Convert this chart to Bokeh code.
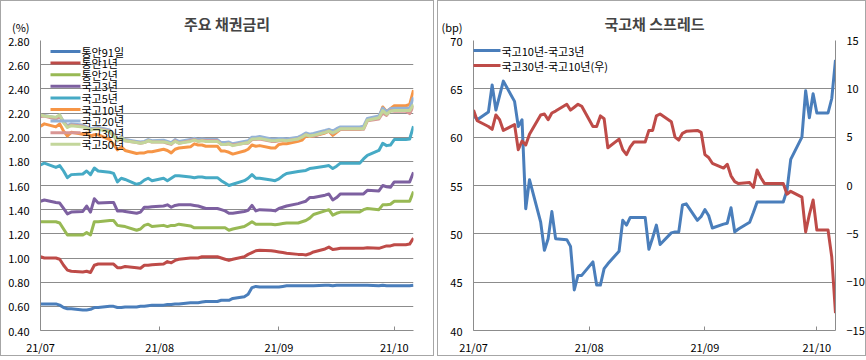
import pandas as pd
from bokeh.plotting import figure
from bokeh.layouts import row
from bokeh.models import (LinearAxis, Range1d, FixedTicker, DatetimeTickFormatter,
                          Label, BoxAnnotation, NumeralTickFormatter)
from bokeh.embed import file_html
from bokeh.resources import INLINE

# ---------------- data ----------------
days = ["07-01", "07-02", "07-05", "07-06", "07-07", "07-08", "07-09", "07-12", "07-13", "07-14", "07-15",
        "07-16", "07-19", "07-20", "07-21", "07-22", "07-23", "07-26", "07-27", "07-28", "07-29", "07-30",
        "08-02", "08-03", "08-04", "08-05", "08-06", "08-09", "08-10", "08-11", "08-12", "08-13", "08-16",
        "08-17", "08-18", "08-19", "08-20", "08-23", "08-24", "08-25", "08-26", "08-27", "08-30", "08-31",
        "09-01", "09-02", "09-03", "09-06", "09-07", "09-08", "09-09", "09-10", "09-13", "09-14", "09-15",
        "09-16", "09-17", "09-20", "09-21", "09-22", "09-23", "09-24", "09-27", "09-28", "09-29", "09-30",
        "10-01", "10-04", "10-05", "10-06"]

msb_91d = [0.62, 0.62, 0.62, 0.61, 0.59, 0.58, 0.58, 0.57, 0.57, 0.575, 0.59, 0.59, 0.60, 0.60, 0.59, 0.59, 0.595, 0.595, 0.60, 0.60, 0.605, 0.61,
           0.61, 0.615, 0.615, 0.62, 0.62, 0.63, 0.63, 0.63, 0.635, 0.64, 0.64, 0.65, 0.65, 0.65, 0.665, 0.68, 0.70, 0.755, 0.765, 0.76, 0.76, 0.76,
           0.76, 0.765, 0.77, 0.77, 0.77, 0.77, 0.77, 0.77, 0.775, 0.775, 0.77, 0.775, 0.775, 0.775, 0.775, 0.775, 0.775, 0.775, 0.77, 0.775, 0.77, 0.77,
           0.77, 0.77, 0.77, 0.775]
msb_1y = [1.01, 1.00, 1.00, 0.99, 0.94, 0.90, 0.89, 0.885, 0.89, 0.88, 0.94, 0.95, 0.95, 0.95, 0.92, 0.92, 0.93, 0.92, 0.915, 0.94, 0.94, 0.945,
          0.95, 0.97, 0.96, 0.98, 0.99, 1.00, 1.00, 1.00, 1.01, 1.01, 1.01, 1.00, 0.99, 0.98, 0.99, 1.01, 1.03, 1.045, 1.06, 1.065, 1.06, 1.055,
          1.05, 1.045, 1.04, 1.03, 1.03, 1.025, 1.035, 1.05, 1.075, 1.09, 1.07, 1.075, 1.08, 1.08, 1.08, 1.08, 1.08, 1.085, 1.08, 1.09, 1.10, 1.10,
          1.11, 1.11, 1.115, 1.165]
msb_2y = [1.30, 1.30, 1.30, 1.29, 1.24, 1.19, 1.19, 1.19, 1.21, 1.19, 1.30, 1.30, 1.31, 1.31, 1.27, 1.265, 1.26, 1.23, 1.24, 1.27, 1.28, 1.26,
          1.27, 1.26, 1.27, 1.27, 1.28, 1.265, 1.25, 1.25, 1.25, 1.25, 1.25, 1.25, 1.25, 1.23, 1.24, 1.26, 1.28, 1.30, 1.28, 1.28, 1.28, 1.275,
          1.28, 1.285, 1.29, 1.29, 1.30, 1.31, 1.33, 1.36, 1.39, 1.40, 1.355, 1.37, 1.38, 1.38, 1.38, 1.38, 1.40, 1.41, 1.40, 1.44, 1.44, 1.445,
          1.47, 1.47, 1.47, 1.55]
ktb_3y = [1.47, 1.48, 1.46, 1.455, 1.41, 1.365, 1.38, 1.385, 1.43, 1.38, 1.49, 1.455, 1.46, 1.46, 1.39, 1.39, 1.385, 1.37, 1.38, 1.42, 1.42, 1.425,
          1.43, 1.44, 1.42, 1.435, 1.44, 1.44, 1.435, 1.43, 1.42, 1.41, 1.41, 1.40, 1.39, 1.37, 1.37, 1.385, 1.395, 1.435, 1.39, 1.40, 1.395, 1.39,
          1.41, 1.42, 1.43, 1.45, 1.46, 1.47, 1.50, 1.50, 1.52, 1.53, 1.48, 1.50, 1.53, 1.53, 1.53, 1.53, 1.53, 1.56, 1.555, 1.60, 1.59, 1.585,
          1.63, 1.63, 1.63, 1.71]
ktb_5y = [1.77, 1.785, 1.75, 1.765, 1.72, 1.665, 1.69, 1.695, 1.72, 1.69, 1.745, 1.72, 1.71, 1.70, 1.63, 1.66, 1.65, 1.61, 1.62, 1.645, 1.66, 1.64,
          1.66, 1.64, 1.66, 1.68, 1.68, 1.67, 1.665, 1.67, 1.67, 1.665, 1.665, 1.64, 1.62, 1.60, 1.61, 1.64, 1.66, 1.69, 1.66, 1.66, 1.645, 1.64,
          1.655, 1.68, 1.70, 1.715, 1.72, 1.725, 1.74, 1.745, 1.76, 1.765, 1.74, 1.76, 1.785, 1.785, 1.785, 1.785, 1.82, 1.85, 1.89, 1.95, 1.93, 1.935,
          1.98, 1.98, 1.985, 2.09]
ktb_10y = [2.09, 2.11, 2.085, 2.11, 2.05, 2.01, 2.04, 2.025, 2.035, 2.01, 2.02, 2.02, 1.98, 1.94, 1.895, 1.92, 1.89, 1.865, 1.87, 1.87, 1.88, 1.88,
           1.90, 1.89, 1.87, 1.90, 1.91, 1.92, 1.945, 1.935, 1.935, 1.925, 1.925, 1.885, 1.885, 1.875, 1.86, 1.885, 1.90, 1.935, 1.925, 1.93, 1.91, 1.91,
           1.94, 1.945, 1.945, 1.965, 1.975, 2.01, 2.005, 2.01, 2.035, 2.05, 2.015, 2.04, 2.065, 2.065, 2.065, 2.065, 2.075, 2.14, 2.16, 2.25, 2.21, 2.235,
           2.26, 2.26, 2.27, 2.39]
ktb_20y = [2.175, 2.18, 2.16, 2.18, 2.13, 2.095, 2.11, 2.10, 2.085, 2.07, 2.075, 2.08, 2.06, 2.025, 1.98, 2.005, 1.98, 1.965, 1.96, 1.965, 1.98, 1.97,
           1.975, 1.965, 1.955, 1.98, 1.965, 1.98, 1.99, 1.98, 1.985, 1.98, 1.98, 1.955, 1.955, 1.96, 1.945, 1.965, 1.97, 2.00, 2.00, 2.005, 1.985, 1.985,
           1.99, 1.99, 1.985, 2.00, 2.015, 2.035, 2.025, 2.03, 2.055, 2.065, 2.05, 2.07, 2.085, 2.085, 2.085, 2.085, 2.09, 2.155, 2.175, 2.24, 2.21, 2.235,
           2.24, 2.24, 2.24, 2.33]
ktb_30y = [2.17, 2.175, 2.15, 2.17, 2.125, 2.085, 2.10, 2.09, 2.075, 2.06, 2.065, 2.07, 2.05, 2.015, 1.97, 1.995, 1.97, 1.955, 1.95, 1.955, 1.97, 1.96,
           1.96, 1.95, 1.94, 1.97, 1.95, 1.97, 1.98, 1.965, 1.975, 1.97, 1.97, 1.94, 1.94, 1.945, 1.935, 1.95, 1.95, 1.98, 1.98, 1.985, 1.965, 1.965,
           1.97, 1.975, 1.97, 1.985, 2.00, 2.02, 2.01, 2.01, 2.04, 2.05, 2.03, 2.05, 2.065, 2.065, 2.065, 2.065, 2.065, 2.135, 2.15, 2.20, 2.18, 2.22,
           2.215, 2.215, 2.195, 2.26]
ktb_50y = [2.185, 2.175, 2.165, 2.185, 2.12, 2.08, 2.095, 2.085, 2.075, 2.06, 2.065, 2.065, 2.045, 2.01, 1.975, 1.995, 1.97, 1.955, 1.95, 1.955, 1.97, 1.96,
           1.96, 1.955, 1.945, 1.965, 1.95, 1.965, 1.975, 1.965, 1.97, 1.965, 1.965, 1.94, 1.94, 1.945, 1.93, 1.95, 1.955, 1.985, 1.985, 1.99, 1.97, 1.97,
           1.975, 1.975, 1.97, 1.985, 2.00, 2.02, 2.01, 2.015, 2.04, 2.05, 2.035, 2.05, 2.07, 2.07, 2.07, 2.07, 2.07, 2.14, 2.16, 2.22, 2.19, 2.215,
           2.22, 2.22, 2.22, 2.27]

spread_10_3 = [62.3, 61.8, 62.6, 65.4, 62.8, 64.3, 65.8, 63.7, 61.1, 61.8, 52.6, 55.6, 51.2, 48.3, 49.5, 52.3, 49.5, 49.4, 48.7, 44.2, 45.7, 45.7,
               47.1, 44.7, 44.7, 46.4, 46.9, 48.2, 51.4, 50.9, 51.7, 51.7, 51.7, 48.4, 49.6, 50.9, 48.9, 50.1, 50.2, 50.2, 53.0, 53.1, 51.4, 51.8,
               52.5, 51.9, 50.6, 51.0, 51.1, 52.7, 50.2, 50.5, 51.2, 52.2, 53.3, 53.3, 53.3, 53.3, 53.3, 53.3, 54.5, 57.7, 60.0, 64.8, 62.0, 64.5,
               62.5, 62.5, 64.0, 68.0]
spread_30_10 = [7.8, 6.7, 6.1, 5.8, 7.3, 6.8, 5.7, 6.3, 3.7, 4.6, 4.2, 5.3, 7.3, 7.4, 6.8, 7.5, 7.7, 8.4, 7.8, 8.1, 8.4, 8.2,
                6.1, 6.1, 7.2, 6.9, 3.9, 4.8, 3.7, 3.2, 4.0, 4.5, 4.5, 5.7, 5.7, 7.2, 7.4, 6.6, 5.0, 4.7, 5.4, 5.6, 5.7, 5.5,
                3.2, 2.9, 2.3, 1.8, 2.2, 1.0, 0.4, 0.2, 0.3, -0.2, 1.6, 0.8, 0.2, 0.2, 0.2, 0.2, -0.9, -0.6, -1.2, -4.8, -3.0, -1.5,
                -4.6, -4.6, -7.4, -13.2]

left_names = ["통안91일", "통안1년", "통안2년", "국고3년", "국고5년", "국고10년", "국고20년", "국고30년", "국고50년"]
left_series = [msb_91d, msb_1y, msb_2y, ktb_3y, ktb_5y, ktb_10y, ktb_20y, ktb_30y, ktb_50y]
left_colors = ["#4A7EBB", "#BE4B48", "#98B954", "#7D60A0", "#46AAC5", "#F69546", "#95B3D7", "#D99694", "#C3D69B"]
left_ticks = [0.40, 0.60, 0.80, 1.00, 1.20, 1.40, 1.60, 1.80, 2.00, 2.20, 2.40, 2.60, 2.80]
right_names = ["국고10년-국고3년", "국고30년-국고10년(우)"]
right_colors = ["#4A7EBB", "#BE4B48"]
right_left_ticks = [40, 45, 50, 55, 60, 65, 70]
right_right_ticks = [-15, -10, -5, 0, 5, 10, 15]
month_ticks = ["2021-07-01", "2021-08-01", "2021-09-01", "2021-10-01"]
left_unit = "(%)"
right_unit = "(bp)"

# ---------------- styling ----------------
FONT = "Noto Sans CJK KR"
GRID = "#8C8C8C"
H = 356
x = pd.to_datetime(["2021-" + d for d in days])
xticks = [pd.Timestamp(m).value // 10**6 for m in month_ticks]
fmt = DatetimeTickFormatter(days="%y/%m", months="%y/%m", years="%y/%m", hours="%y/%m",
                            minutes="%y/%m", seconds="%y/%m", milliseconds="%y/%m", microseconds="%y/%m")


def style_axis(ax, standoff):
    ax.axis_line_color = GRID
    ax.major_tick_line_color = GRID
    ax.minor_tick_line_color = None
    ax.major_label_text_font = FONT
    ax.major_label_text_font_size = "11px"
    ax.major_label_text_color = "#000000"
    ax.major_label_standoff = standoff


def base_fig(width, bl, br, yr, yticks, title):
    p = figure(width=width, height=H, x_axis_type="datetime",
               x_range=Range1d(x[0], x[-1]), y_range=Range1d(*yr),
               output_backend="svg", toolbar_location=None,
               min_border_left=bl, min_border_right=br, min_border_top=39, min_border_bottom=H - 330)
    p.title.text = title
    p.title.align = "center"
    p.title.text_font = FONT
    p.title.text_font_size = "15px"
    p.title.text_font_style = "bold"
    p.title.standoff = 13
    p.outline_line_color = None
    p.xgrid.visible = False
    p.ygrid.grid_line_color = GRID
    p.ygrid.grid_line_width = 1
    p.xaxis.ticker = FixedTicker(ticks=xticks)
    p.xaxis.formatter = fmt
    p.xaxis.major_tick_in = 4
    p.xaxis.major_tick_out = 0
    p.yaxis.ticker = FixedTicker(ticks=yticks)
    p.yaxis.major_tick_in = 0
    p.yaxis.major_tick_out = 0
    style_axis(p.xaxis[0], 8)
    style_axis(p.yaxis[0], 11)
    p.yaxis.major_label_text_line_height = 0.85
    p.styles = {"border": "1px solid #a6a6a6", "box-sizing": "border-box"}
    return p


def legend_entry(p, col, name, x0, yc, gw):
    p.add_layout(BoxAnnotation(left=x0, right=x0 + gw, top=yc - 1.5, bottom=yc + 1.5,
                               left_units="canvas", right_units="canvas",
                               top_units="canvas", bottom_units="canvas",
                               fill_color=col, fill_alpha=1, line_color=None))
    p.add_layout(Label(x=x0 + gw + 1, y=yc, x_units="canvas", y_units="canvas", text=name,
                       text_font=FONT, text_font_size="11px", text_baseline="middle",
                       text_color="#000000"))


# ---------------- left chart ----------------
p1 = base_fig(434, 39, 22, (0.4, 2.8), left_ticks, "주요 채권금리")
p1.yaxis.formatter = NumeralTickFormatter(format="0.00")
# unit caption shown one line above the top tick label
p1.yaxis.major_label_overrides = {left_ticks[-1]: left_unit + "\n2.80\n "}
for ys, col in zip(left_series, left_colors):
    p1.line(x, ys, line_color=col, line_width=3, line_join="round")
for i, (name, col) in enumerate(zip(left_names, left_colors)):
    legend_entry(p1, col, name, 48, 49 + 11.6 * i, 30)

# ---------------- right chart ----------------
p2 = base_fig(429, 25, 28, (40, 70), right_left_ticks, "국고채 스프레드")
p2.yaxis.major_label_overrides = {right_left_ticks[-1]: right_unit + "\n70\n "}
p2.extra_y_ranges = {"r": Range1d(-15, 15)}
rax = LinearAxis(y_range_name="r", ticker=FixedTicker(ticks=right_right_ticks))
rax.major_tick_in = 0
rax.major_tick_out = 0
style_axis(rax, 11)
p2.add_layout(rax, "right")

p2.line(x, spread_10_3, line_color=right_colors[0], line_width=3, line_join="round")
p2.line(x, spread_30_10, line_color=right_colors[1], line_width=3, line_join="round", y_range_name="r")
for i, (name, col) in enumerate(zip(right_names, right_colors)):
    legend_entry(p2, col, name, 33, 48 + 15 * i, 28)

layout = row(p1, p2, spacing=3)
open("out.html", "w").write(file_html(layout, INLINE))
